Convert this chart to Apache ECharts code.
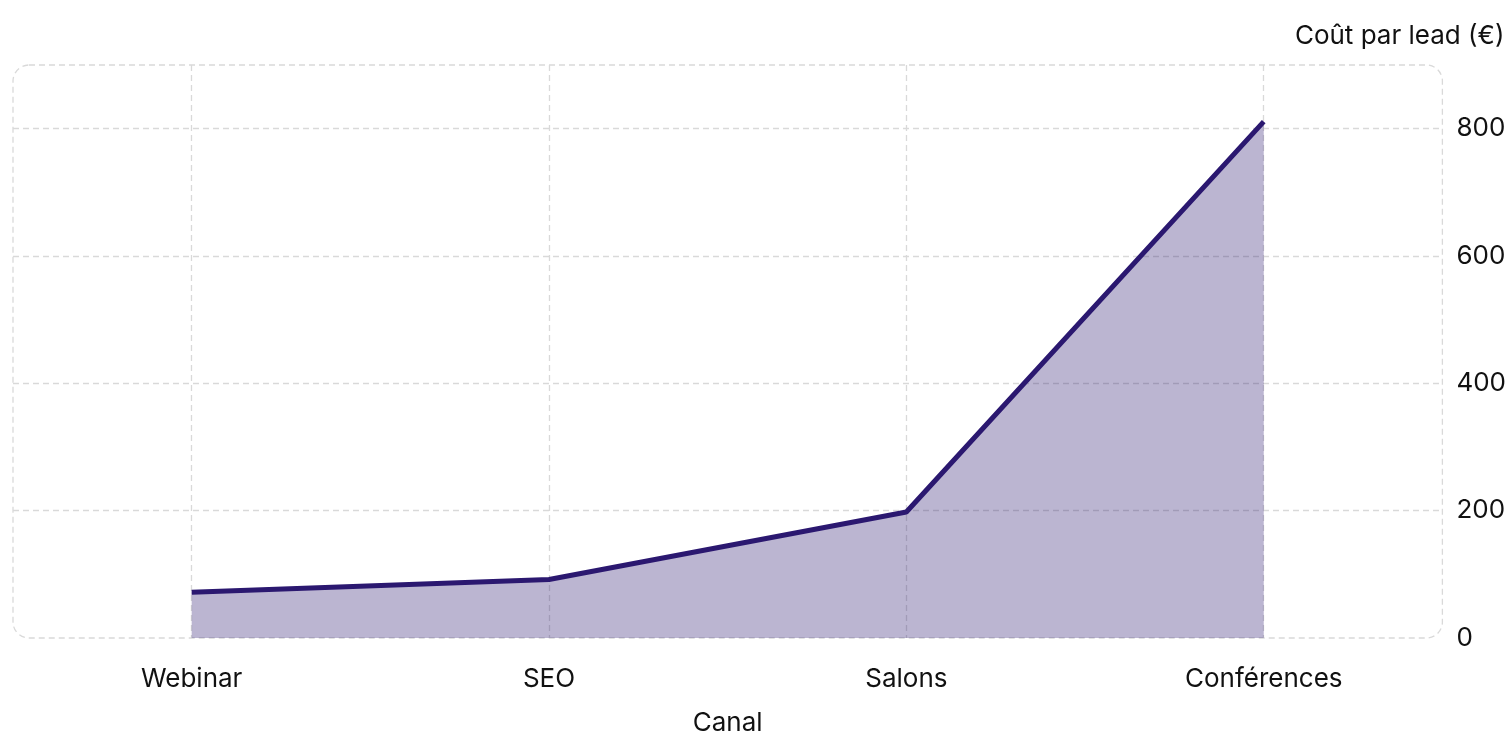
<!DOCTYPE html>
<html>
<head>
<meta charset="utf-8">
<script src="https://cdn.jsdelivr.net/npm/echarts@6/dist/echarts.min.js"></script>
<style>
html,body{margin:0;padding:0;background:#fff;overflow:hidden;}
#chart{width:1509px;height:741px;}
</style>
</head>
<body>
<div id="chart"></div>
<script>
const categories = ['Webinar', 'SEO', 'Salons', 'Conférences'];
const costPerLead = [72, 92, 198, 811];
const xName = 'Canal';
const yName = 'Coût par lead (€)';

const chart = echarts.init(document.getElementById('chart'), null, {renderer: 'canvas'});
const font = 'Inter, "Noto Sans", sans-serif';
const dash = {color: '#d9d9d9', width: 1.3, type: [6, 4]};

const option = {
  backgroundColor: '#ffffff',
  animation: false,
  grid: {left: 13, right: 60, top: 65, bottom: 96, containLabel: false},
  xAxis: {
    type: 'category',
    data: categories,
    boundaryGap: true,
    name: xName,
    nameLocation: 'middle',
    nameGap: 72,
    nameTextStyle: {fontFamily: font, fontSize: 26, color: '#111'},
    axisLine: {show: false},
    axisTick: {show: false},
    axisLabel: {fontFamily: font, fontSize: 26, color: '#111', margin: 28},
    splitLine: {show: true, alignWithLabel: true, lineStyle: dash}
  },
  yAxis: {
    type: 'value',
    position: 'right',
    min: 0,
    max: 900,
    interval: 200,
    name: yName,
    nameLocation: 'end',
    nameGap: 16,
    nameTextStyle: {fontFamily: font, fontSize: 26, color: '#111', align: 'right', padding: [0, -62, 0, 0]},
    axisLine: {show: false},
    axisTick: {show: false},
    axisLabel: {fontFamily: font, fontSize: 26, color: '#111', margin: 14, showMaxLabel: false},
    splitLine: {show: true, showMinLine: false, showMaxLine: false, lineStyle: dash}
  },
  series: [{
    type: 'line',
    data: costPerLead,
    symbol: 'none',
    lineStyle: {color: '#2b1870', width: 5},
    itemStyle: {color: '#2b1870'},
    areaStyle: {color: 'rgba(43,24,112,0.32)', opacity: 1},
    z: 1
  }]
};
chart.setOption(option);

// rounded dashed border around the grid, sized from the grid's own rect
const rect = chart.getModel().getComponent('grid').coordinateSystem.getRect();
chart.setOption({
  graphic: [{
    type: 'rect',
    z: -1,
    silent: true,
    shape: {x: rect.x, y: rect.y, width: rect.width, height: rect.height, r: 16},
    style: {fill: 'none', stroke: '#d9d9d9', lineWidth: 1.3, lineDash: [6, 4]}
  }]
});
</script>
</body>
</html>
